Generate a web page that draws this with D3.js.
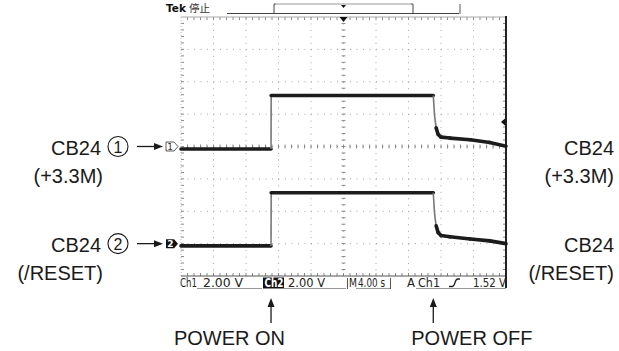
<!DOCTYPE html>
<html><head><meta charset="utf-8">
<script src="https://cdn.jsdelivr.net/npm/d3@7"></script>
<style>
html,body{margin:0;padding:0;background:#fff;}
svg{display:block;}
</style></head>
<body>
<script>
// ---- data ----
const timeDomain = [0, 40];          // seconds (M 4.00 s / div, 10 div)
const divDomain = [-4, 4];           // vertical divisions
const ch1Scale = 2.0;                // V/div
const ch2Scale = 2.0;                // V/div
const ch1Offset = 0;                 // divisions
const ch2Offset = -3;                // divisions
const ch1Time = [0, 11.08, 11.1, 31.05, 31.2, 31.4, 31.65, 32.0, 33.1, 35.6, 38.0, 40];
const ch1Volt = [-0.15, -0.15, 3.15, 3.15, 1.95, 1.15, 0.74, 0.58, 0.52, 0.42, 0.25, 0.02];
const ch2Time = [0, 11.08, 11.1, 31.05, 31.2, 31.4, 31.65, 32.0, 33.1, 35.6, 38.0, 40];
const ch2Volt = [-0.14, -0.14, 3.14, 3.14, 1.9, 1.1, 0.68, 0.5, 0.42, 0.29, 0.17, 0.0];
const triggerLevel = 1.52;           // V on Ch1
const statusTexts = ["Ch1", "2.00 V", "Ch2", "2.00 V", "M", "4.00 s", "A", "Ch1", "1.52 V"];
const leftLabels = [["CB24", "(+3.3M)"], ["CB24", "(/RESET)"]];
const circledNums = ["1", "2"];
const rightLabels = [["CB24", "(+3.3M)"], ["CB24", "(/RESET)"]];
const eventLabels = ["POWER ON", "POWER OFF"];
const eventTimes = [11.08, 31.05];

// ---- layout ----
const W = 619, H = 351;
const gx0 = 181, gx1 = 506, gy0 = 17, gy1 = 276;
const x = d3.scaleLinear().domain(timeDomain).range([gx0, gx1]);
const y = d3.scaleLinear().domain(divDomain).range([gy1, gy0]);
const svg = d3.select("body").append("svg").attr("width", W).attr("height", H);
const labelFont = "'Liberation Sans', Arial, Helvetica, sans-serif";
const scopeFont = "'DejaVu Sans', sans-serif";

// ---- graticule ----
const g = svg.append("g");
const divW = (gx1 - gx0) / 10, divH = (gy1 - gy0) / 8;
const grid = g.append("g").attr("stroke", "#a4a4a4").attr("stroke-width", 1);
d3.range(1, 10).forEach(i => {
  grid.append("line").attr("x1", gx0 + i * divW).attr("x2", gx0 + i * divW)
    .attr("y1", gy0).attr("y2", gy1).attr("stroke-dasharray", "1," + (divH / 5 - 1));
});
d3.range(1, 8).forEach(j => {
  grid.append("line").attr("y1", gy0 + j * divH).attr("y2", gy0 + j * divH)
    .attr("x1", gx0).attr("x2", gx1).attr("stroke-dasharray", "1," + (divW / 5 - 1));
});
const cx = gx0 + 5 * divW, cy = gy0 + 4 * divH;
const ticks = g.append("g").attr("stroke", "#8a8a8a").attr("stroke-width", 1);
d3.range(1, 50).forEach(k => {
  const xx = gx0 + k * divW / 5;
  ticks.append("line").attr("x1", xx).attr("x2", xx).attr("y1", cy - 2).attr("y2", cy + 2);
  ticks.append("line").attr("x1", xx).attr("x2", xx).attr("y1", gy0).attr("y2", gy0 + 3);
  ticks.append("line").attr("x1", xx).attr("x2", xx).attr("y1", gy1 - 3).attr("y2", gy1);
});
d3.range(1, 40).forEach(k => {
  const yy = gy0 + k * divH / 5;
  ticks.append("line").attr("y1", yy).attr("y2", yy).attr("x1", cx - 2).attr("x2", cx + 2);
  ticks.append("line").attr("y1", yy).attr("y2", yy).attr("x1", gx0).attr("x2", gx0 + 3);
  ticks.append("line").attr("y1", yy).attr("y2", yy).attr("x1", gx1 - 3).attr("x2", gx1);
});
g.append("line").attr("x1", gx0).attr("x2", gx1).attr("y1", gy0).attr("y2", gy0).attr("stroke", "#aaa");
g.append("line").attr("x1", gx0).attr("x2", gx0).attr("y1", gy0).attr("y2", gy1).attr("stroke", "#bbb").attr("stroke-dasharray", "1,2");
g.append("line").attr("x1", gx0).attr("x2", gx1).attr("y1", gy1).attr("y2", gy1).attr("stroke", "#555");
g.append("line").attr("x1", gx1).attr("x2", gx1).attr("y1", gy0 - 1).attr("y2", gy1 + 12).attr("stroke", "#222").attr("stroke-width", 2);

// ---- traces ----
function drawTrace(times, volts, scale, offset) {
  const pts = times.map((t, i) => [x(t), y(volts[i] / scale + offset)]);
  for (let i = 0; i < pts.length - 1; i++) {
    const a = pts[i], b = pts[i + 1];
    const steep = Math.abs(b[1] - a[1]) > 3 * Math.abs(b[0] - a[0]) + 2;
    svg.append("line").attr("x1", a[0]).attr("y1", a[1]).attr("x2", b[0]).attr("y2", b[1])
      .attr("stroke", steep ? "#777" : "#1c1c1c").attr("stroke-width", steep ? 1.6 : 3.6)
      .attr("stroke-linecap", steep ? "butt" : "round");
  }
}
drawTrace(ch1Time, ch1Volt, ch1Scale, ch1Offset);
drawTrace(ch2Time, ch2Volt, ch2Scale, ch2Offset);

// ---- trigger markers ----
svg.append("path").attr("d", `M${cx - 4},${gy0} L${cx + 4},${gy0} L${cx},${gy0 + 5} Z`).attr("fill", "#111");
const ty = y(triggerLevel / ch1Scale + ch1Offset);
svg.append("path").attr("d", `M${gx1 - 5},${ty} L${gx1 - 1},${ty - 3.5} L${gx1 - 1},${ty + 3.5} Z`).attr("fill", "#111");

// ---- header ----
svg.append("text").attr("x", 166).attr("y", 12).attr("font-family", scopeFont).attr("font-weight", "bold")
  .attr("font-size", 10.5).attr("fill", "#111").text("Tek");
svg.append("text").attr("x", 189).attr("y", 12).attr("font-family", "'Noto Sans CJK SC'")
  .attr("font-size", 10.5).attr("fill", "#333").text("停止");
const hdr = svg.append("g").attr("stroke", "#444").attr("fill", "none");
hdr.append("line").attr("x1", 227).attr("x2", 460).attr("y1", 13.5).attr("y2", 13.5);
hdr.append("path").attr("d", "M276,4 L274,4 L274,13.5 L276,13.5");
hdr.append("path").attr("d", "M411,4 L413,4 L413,13.5 L411,13.5");
hdr.append("line").attr("x1", 276).attr("x2", 411).attr("y1", 4).attr("y2", 4).attr("stroke", "#999");
hdr.append("line").attr("x1", 460).attr("x2", 460).attr("y1", 4).attr("y2", 14).attr("stroke", "#aaa").attr("stroke-width", 2);
svg.append("path").attr("d", `M${cx - 2.5},5 L${cx + 2.5},5 L${cx},8 Z`).attr("fill", "#111");

// ---- channel markers on left ----
const m1 = y(ch1Offset), m2 = y(ch2Offset);
svg.append("path").attr("d", `M166,${m1 - 4.5} L174,${m1 - 4.5} L178,${m1} L174,${m1 + 4.5} L166,${m1 + 4.5} Z`)
  .attr("fill", "#fff").attr("stroke", "#333").attr("stroke-width", 0.8);
svg.append("text").attr("x", 170).attr("y", m1 + 3.5).attr("text-anchor", "middle").attr("font-family", scopeFont)
  .attr("font-size", 9).attr("fill", "#333").text("1");
svg.append("path").attr("d", `M166,${m2 - 4.5} L174,${m2 - 4.5} L178,${m2} L174,${m2 + 4.5} L166,${m2 + 4.5} Z`)
  .attr("fill", "#111");
svg.append("text").attr("x", 170.5).attr("y", m2 + 3.5).attr("text-anchor", "middle").attr("font-family", scopeFont)
  .attr("font-weight", "bold").attr("font-size", 9).attr("fill", "#fff").text("2");

// ---- left labels ----
[m1, m2].forEach((my, i) => {
  svg.append("text").attr("x", 101).attr("y", my + 8).attr("text-anchor", "end").attr("font-family", labelFont)
    .attr("font-size", 20).attr("fill", "#1a1a1a").text(leftLabels[i][0]);
  svg.append("text").attr("x", 103).attr("y", my + 36).attr("text-anchor", "end").attr("font-family", labelFont)
    .attr("font-size", 20).attr("fill", "#1a1a1a").text(leftLabels[i][1]);
  svg.append("circle").attr("cx", 118).attr("cy", my).attr("r", 10).attr("fill", "none").attr("stroke", "#1a1a1a").attr("stroke-width", 1.1);
  svg.append("text").attr("x", 118).attr("y", my + 6).attr("text-anchor", "middle").attr("font-family", labelFont)
    .attr("font-size", 16).attr("fill", "#1a1a1a").text(circledNums[i]);
  svg.append("line").attr("x1", 137).attr("x2", 156).attr("y1", my).attr("y2", my).attr("stroke", "#1a1a1a").attr("stroke-width", 1.3);
  svg.append("path").attr("d", `M163,${my} L154,${my - 3.5} L154,${my + 3.5} Z`).attr("fill", "#1a1a1a");
});

// ---- right labels ----
[m1, m2].forEach((my, i) => {
  svg.append("text").attr("x", 614).attr("y", my + 8).attr("text-anchor", "end").attr("font-family", labelFont)
    .attr("font-size", 20).attr("fill", "#1a1a1a").text(rightLabels[i][0]);
  svg.append("text").attr("x", 614).attr("y", my + 36).attr("text-anchor", "end").attr("font-family", labelFont)
    .attr("font-size", 20).attr("fill", "#1a1a1a").text(rightLabels[i][1]);
});

// ---- status bar ----
const sl = svg.append("g").attr("stroke", "#999").attr("stroke-width", 1);
sl.append("line").attr("x1", 197).attr("x2", 262).attr("y1", 288.5).attr("y2", 288.5);
sl.append("line").attr("x1", 284).attr("x2", 346).attr("y1", 288.5).attr("y2", 288.5);
sl.append("line").attr("x1", 356).attr("x2", 390).attr("y1", 288.5).attr("y2", 288.5);
sl.append("line").attr("x1", 416).attr("x2", 506).attr("y1", 288.5).attr("y2", 288.5);
svg.append("line").attr("x1", 347.5).attr("x2", 347.5).attr("y1", 278).attr("y2", 289).attr("stroke", "#555");
svg.append("line").attr("x1", 390.5).attr("x2", 390.5).attr("y1", 278).attr("y2", 289).attr("stroke", "#555");
svg.append("rect").attr("x", 263).attr("y", 277.5).attr("width", 21).attr("height", 11).attr("fill", "#111");
const sb = svg.append("g").attr("font-family", scopeFont).attr("fill", "#222");
const sy = 287;
const sx = [180, 203, 264.5, 288, 349, 358, 407, 418, 473];
const sw = [17, 40, 19, 37, 8, 27, 8, 22, 33];
statusTexts.forEach((t, i) => {
  sb.append("text").attr("x", sx[i]).attr("y", sy).attr("fill", i === 2 ? "#fff" : "#222")
    .attr("font-weight", i === 2 ? "bold" : "normal").attr("font-size", 11.5)
    .attr("textLength", sw[i]).attr("lengthAdjust", "spacingAndGlyphs").text(t);
});
svg.append("path").attr("d", "M449,286.5 L452,286.5 Q454,286.5 455,282.5 Q456,279 458,279 L460,279").attr("fill", "none").attr("stroke", "#222").attr("stroke-width", 1.3);

// ---- event arrows ----
const evAnchor = ["end", "start"];
const evShift = [14, -22];
eventTimes.forEach((t, i) => {
  const ex = x(t);
  svg.append("line").attr("x1", ex).attr("x2", ex).attr("y1", 305).attr("y2", 323).attr("stroke", "#1a1a1a").attr("stroke-width", 1.3);
  svg.append("path").attr("d", `M${ex},298 L${ex - 3.5},307 L${ex + 3.5},307 Z`).attr("fill", "#1a1a1a");
  svg.append("text").attr("x", ex + evShift[i]).attr("y", 345).attr("text-anchor", evAnchor[i]).attr("font-family", labelFont)
    .attr("font-size", 20).attr("fill", "#1a1a1a").text(eventLabels[i]);
});
</script>
</body></html>
